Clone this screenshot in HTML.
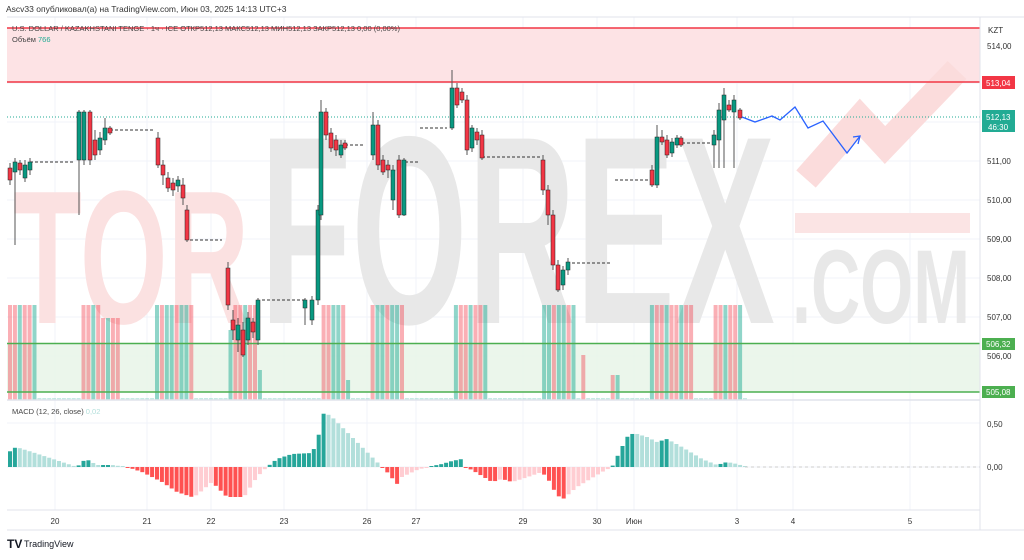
<!DOCTYPE html>
<html><head><meta charset="utf-8"><style>
body{margin:0;background:#fff;width:1024px;height:555px;overflow:hidden;font-family:"Liberation Sans",sans-serif}
</style></head><body>
<svg id="s" width="1024" height="555" xmlns="http://www.w3.org/2000/svg" font-family="Liberation Sans, sans-serif">
<rect width="1024" height="555" fill="#fff"/>
<g stroke="#f0f3fa" stroke-width="1" id="grid"></g>
<rect x="7" y="28" width="973" height="54" fill="#fde3e5"/>
<line x1="7" y1="28" x2="980" y2="28" stroke="#f23645" stroke-width="1.5"/>
<!-- watermark -->
<g font-weight="bold">
<text x="13" y="323" font-size="190" textLength="236" lengthAdjust="spacingAndGlyphs" fill="#fbe1e1">TOR</text>
<text x="260" y="323" font-size="268" textLength="515" lengthAdjust="spacingAndGlyphs" fill="#e8e8e8">FOREX</text>
<text x="792" y="323" font-size="105" textLength="178" lengthAdjust="spacingAndGlyphs" fill="#e8e8e8">.COM</text>
</g>
<polyline points="806,179 860,118 885,145 957,70" fill="none" stroke="#fbdcdc" stroke-width="26"/>
<rect x="795" y="213" width="175" height="20" fill="#fbe4e4"/>
<line x1="7" y1="82" x2="980" y2="82" stroke="#f23645" stroke-width="1.5"/>
<rect x="7" y="343" width="973" height="49" fill="#e7f5e8" opacity="0.85"/>
<g id="vol"></g>
<line x1="7" y1="343.5" x2="980" y2="343.5" stroke="#4caf50" stroke-width="1.5"/>
<line x1="7" y1="392" x2="980" y2="392" stroke="#4caf50" stroke-width="1.5"/>
<line x1="7" y1="117" x2="980" y2="117" stroke="#22ab94" stroke-width="1" stroke-dasharray="1,2"/>
<g id="dash" stroke="#333" stroke-width="1" stroke-dasharray="3,2"></g>
<g id="cdl"></g>
<polyline points="742,117 755,122 772,116 780,120 795,107 808,128 823,121 847,153 860,136" fill="none" stroke="#2962ff" stroke-width="1.3"/>
<polyline points="853,137 860,136 858,144" fill="none" stroke="#2962ff" stroke-width="1.3"/>
<g id="macd"></g>
<line x1="745" y1="467" x2="980" y2="467" stroke="#ccc" stroke-dasharray="3,3"/>
<line x1="7" y1="17" x2="1024" y2="17" stroke="#e0e3eb"/>
<line x1="7" y1="400" x2="980" y2="400" stroke="#e0e3eb" stroke-width="1.5"/>
<line x1="980" y1="17" x2="980" y2="530" stroke="#e0e3eb"/>
<line x1="7" y1="530" x2="1024" y2="530" stroke="#e0e3eb"/>
<line x1="7" y1="510" x2="980" y2="510" stroke="#e0e3eb"/>
<text x="6" y="12" font-size="8.5" fill="#333">Ascv33 опубликовал(а) на TradingView.com, Июн 03, 2025 14:13 UTC+3</text>
<text x="12" y="31" font-size="7.5" fill="#444">U.S. DOLLAR / KAZAKHSTANI TENGE · 1ч · ICE  ОТКР512,13  МАКС512,13  МИН512,13  ЗАКР512,13  0,00 (0,00%)</text>
<text x="12" y="42" font-size="7.5" fill="#444">Объём <tspan fill="#22ab94">766</tspan></text>
<text x="12" y="414" font-size="7.5" fill="#444">MACD (12, 26, close) <tspan fill="#b2dfdb">0,02</tspan></text>
<g font-size="8" fill="#333">
<text x="988" y="33">KZT</text>
<text x="987" y="49">514,00</text>
<text x="987" y="164">511,00</text><text x="987" y="203">510,00</text><text x="987" y="242">509,00</text>
<text x="987" y="281">508,00</text><text x="987" y="320">507,00</text><text x="987" y="359">506,00</text>
<text x="987" y="427">0,50</text><text x="987" y="470">0,00</text>
</g>
<rect x="982" y="76" width="33" height="13" fill="#f23645"/><text x="986" y="86" font-size="8" fill="#fff">513,04</text>
<rect x="982" y="110" width="33" height="22" fill="#22ab94"/><text x="986" y="120" font-size="8" fill="#fff">512,13</text><text x="988" y="130" font-size="8" fill="#fff">46:30</text>
<rect x="982" y="338" width="33" height="12" fill="#4caf50"/><text x="986" y="347" font-size="8" fill="#fff">506,32</text>
<rect x="982" y="386" width="33" height="12" fill="#4caf50"/><text x="986" y="395" font-size="8" fill="#fff">505,08</text>
<g font-size="8" fill="#333" text-anchor="middle" id="tl"></g>
<text x="7" y="548" font-size="12" font-weight="bold" fill="#131722">TV</text>
<text x="24" y="547" font-size="9" fill="#131722">TradingView</text>
</svg>
<script>
var NS="http://www.w3.org/2000/svg";
function el(p,t,a){var e=document.createElementNS(NS,t);for(var k in a)e.setAttribute(k,a[k]);document.getElementById(p).appendChild(e);return e;}
var tx=[[55,"20"],[147,"21"],[211,"22"],[284,"23"],[367,"26"],[416,"27"],[523,"29"],[597,"30"],[634,"Июн"],[737,"3"],[793,"4"],[910,"5"]];
tx.forEach(function(t){el("grid","line",{x1:t[0],y1:17,x2:t[0],y2:510});var e=el("tl","text",{x:t[0],y:524});e.textContent=t[1];});
[44,83,122,161,200,239,278,317,356,423,467].forEach(function(y){el("grid","line",{x1:7,y1:y,x2:980,y2:y});});
var vr=[[7,37,95],[38,41,8],[77,100,95],[101,117,82],[155,192,95],[224,232,70],[233,255,95],[256,262,30],[312,316,75],[317,345,95],[346,349,20],[369,404,95],[405,409,30],[453,487,95],[540,575,95],[580,586,45],[607,618,25],[649,690,95],[711,742,95]];
for(var x=8;x<745;x+=4.9){var h=2;vr.forEach(function(r){if(x>=r[0]&&x<=r[1])h=r[2];});
var c=(Math.sin(x*1.7)>0)?"rgba(242,54,69,0.4)":"rgba(34,171,148,0.5)";if(h<=2)c="rgba(34,171,148,0.25)";
el("vol","rect",{x:x,y:400-h,width:4,height:h,fill:c});}
[[30,75,162],[110,155,130],[190,222,240],[262,305,300],[345,365,145],[405,418,162],[420,447,128],[482,540,157],[572,612,263],[615,650,180],[682,712,143]].forEach(function(d){el("dash","line",{x1:d[0],y1:d[2],x2:d[1],y2:d[2]});});
var C=[[10,168,180,163,185,0],[15,162,172,158,245,1],[20,163,170,160,175,0],[25,165,178,160,182,1],[30,162,170,158,175,1],
[79,112,160,110,215,1],[84,112,160,110,165,1],[90,112,160,110,165,0],[95,140,155,130,160,0],[100,138,150,132,155,1],[105,128,140,118,145,1],[110,128,133,126,135,0],
[158,138,165,132,168,0],[163,165,175,160,185,0],[168,178,188,172,192,0],[173,183,190,178,196,0],[178,180,186,176,192,1],[183,185,198,178,205,0],[187,210,240,205,242,0],
[228,268,305,262,310,0],[233,320,330,310,340,0],[238,325,340,318,352,1],[243,330,355,322,357,0],[248,318,340,312,345,1],[253,322,332,318,338,0],[258,300,340,298,345,1],
[305,300,308,298,325,1],[312,300,320,296,325,1],[318,210,300,205,305,1],[321,112,215,100,220,1],[326,112,135,108,140,0],[331,133,148,128,152,0],[336,140,150,135,156,0],[341,145,155,140,158,1],[345,143,148,140,150,0],
[373,125,155,112,160,1],[378,125,165,120,170,0],[383,160,172,155,175,0],[388,165,170,160,178,0],[393,170,200,165,210,1],[399,160,215,155,218,0],[404,160,215,158,216,1],
[452,88,128,70,130,1],[457,88,105,83,108,0],[462,92,100,88,103,0],[467,100,150,95,155,0],[472,128,148,125,152,1],[477,132,140,128,145,0],[482,135,158,130,160,0],
[543,160,190,155,195,0],[548,190,215,185,225,0],[553,215,265,210,270,0],[558,265,290,260,292,0],[563,270,285,266,290,1],[568,262,270,258,275,1],
[652,170,185,165,187,0],[657,137,185,125,188,1],[662,137,142,130,145,0],[667,140,155,135,158,0],[672,142,153,138,157,1],[677,138,145,135,148,1],[681,138,145,136,147,0],
[714,135,145,130,168,1],[719,110,140,103,168,1],[724,95,120,88,168,1],[729,105,110,100,112,0],[734,100,112,95,168,1],[740,110,118,108,120,0]];
C.forEach(function(c){var col=c[5]?"#089981":"#f23645";
el("cdl","line",{x1:c[0],y1:c[3],x2:c[0],y2:c[4],stroke:"#555","stroke-width":1});
el("cdl","rect",{x:c[0]-2,y:c[1],width:4,height:Math.max(1,c[2]-c[1]),fill:col,stroke:"#222","stroke-width":0.5});});
var K=[[7,15],[14,20],[30,15],[60,5],[75,0],[80,5],[84,8],[95,2],[110,2],[125,0],[140,-5],[160,-15],[175,-25],[190,-30],[195,-28],[210,-15],[225,-30],[242,-30],[255,-10],[265,0],[275,8],[290,13],[310,14],[315,25],[322,55],[330,50],[345,35],[375,5],[380,0],[385,-5],[395,-17],[400,-10],[415,-3],[425,0],[440,3],[450,6],[460,8],[463,0],[470,-3],[490,-15],[500,-12],[510,-15],[520,-12],[540,-5],[548,-15],[553,-25],[560,-33],[575,-20],[600,-5],[610,0],[615,10],[625,30],[632,34],[645,30],[655,25],[665,28],[680,20],[700,8],[715,2],[725,5],[735,3],[745,0]];
function f(x){for(var i=0;i<K.length-1;i++){if(x>=K[i][0]&&x<=K[i+1][0]){var t=(x-K[i][0])/(K[i+1][0]-K[i][0]);return K[i][1]+t*(K[i+1][1]-K[i][1]);}}return 0;}
var prev=0;for(var x=8;x<745;x+=4.9){var v=f(x),col;
if(v>=0)col=v>=prev?"#26a69a":"#b2dfdb";else col=v<=prev?"#ff5252":"#ffcdd2";prev=v;
var h=Math.max(1,Math.abs(v));el("macd","rect",{x:x,y:v>=0?467-h:467,width:4,height:h,fill:col});}
</script>
</body></html>
